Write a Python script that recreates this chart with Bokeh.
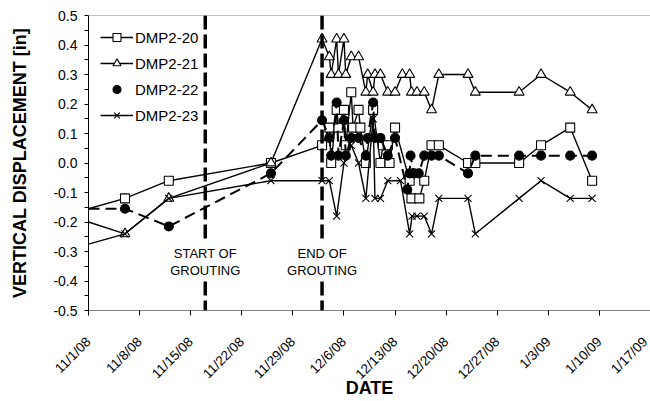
import math
import pandas as pd
from bokeh.plotting import figure
from bokeh.models import (Range1d, FixedTicker, NumeralTickFormatter, Span, Label,
                          Legend, LegendItem, ColumnDataSource)
from bokeh.embed import file_html
from bokeh.resources import INLINE

START = "2008-11-01"

# ---------------- data ----------------
# first entry of each series = value where the line enters the chart at its left edge
dates20 = ["2008-11-01", "2008-11-06", "2008-11-12", "2008-11-26", "2008-12-03",
           "2008-12-04 00:00", "2008-12-04 06:00", "2008-12-05 00:00", "2008-12-05 06:00",
           "2008-12-06 00:00", "2008-12-06 06:00", "2008-12-07 00:00", "2008-12-07 06:00",
           "2008-12-08 00:00", "2008-12-08 06:00", "2008-12-09", "2008-12-10",
           "2008-12-11 00:00", "2008-12-11 08:00", "2008-12-12 00:00", "2008-12-12 06:00",
           "2008-12-13", "2008-12-15 00:00", "2008-12-15 06:00", "2008-12-16 08:00",
           "2008-12-17", "2008-12-18", "2008-12-19", "2008-12-23", "2008-12-24",
           "2008-12-30", "2009-01-02", "2009-01-06", "2009-01-09"]
vals20 = [-0.155, -0.12, -0.06, 0.0, 0.06, 0.12, 0.0, 0.18, 0.12, 0.18, 0.06, 0.24, 0.12,
          0.18, 0.12, 0.0, 0.18, 0.0, 0.06, 0.06, 0.0, 0.12, -0.06, -0.12, -0.12, -0.06,
          0.06, 0.06, 0.0, 0.0, 0.0, 0.06, 0.12, -0.06]

dates21 = ["2008-11-01", "2008-11-06", "2008-11-12", "2008-11-26", "2008-12-03",
           "2008-12-04 00:00", "2008-12-04 06:00", "2008-12-05 00:00", "2008-12-05 06:00",
           "2008-12-06 00:00", "2008-12-06 06:00", "2008-12-07", "2008-12-08",
           "2008-12-09 00:00", "2008-12-09 06:00", "2008-12-10 00:00", "2008-12-10 06:00",
           "2008-12-11", "2008-12-12", "2008-12-13", "2008-12-14", "2008-12-15 00:00",
           "2008-12-15 06:00", "2008-12-16", "2008-12-17", "2008-12-18", "2008-12-19",
           "2008-12-23", "2008-12-24", "2008-12-30", "2009-01-02", "2009-01-06", "2009-01-09"]
vals21 = [-0.20, -0.24, -0.12, 0.0, 0.42, 0.36, 0.30, 0.42, 0.30, 0.42, 0.30, 0.36, 0.36,
          0.24, 0.30, 0.24, 0.30, 0.30, 0.24, 0.24, 0.30, 0.30, 0.24, 0.24, 0.24, 0.18,
          0.30, 0.30, 0.24, 0.24, 0.30, 0.24, 0.18]

dates22 = ["2008-11-01", "2008-11-06", "2008-11-12", "2008-11-26", "2008-12-03",
           "2008-12-04 00:00", "2008-12-04 06:00", "2008-12-05 00:00", "2008-12-05 06:00",
           "2008-12-06 00:00", "2008-12-06 06:00", "2008-12-07", "2008-12-08",
           "2008-12-09 00:00", "2008-12-09 06:00", "2008-12-10 00:00", "2008-12-10 06:00",
           "2008-12-11", "2008-12-12", "2008-12-13", "2008-12-14 16:00", "2008-12-15 00:00",
           "2008-12-15 03:00", "2008-12-15 14:00", "2008-12-16 06:00", "2008-12-17",
           "2008-12-18", "2008-12-19", "2008-12-23", "2008-12-24", "2008-12-30",
           "2009-01-02", "2009-01-06", "2009-01-09"]
vals22 = [-0.155, -0.155, -0.215, -0.035, 0.145, 0.085, 0.025, 0.205, 0.025, 0.145, 0.025,
          0.085, 0.085, 0.025, 0.085, 0.205, 0.085, 0.085, 0.025, 0.085, -0.09, -0.035,
          0.025, -0.035, -0.035, 0.025, 0.025, 0.025, -0.035, 0.025, 0.025, 0.025, 0.025,
          0.025]

dates23 = ["2008-11-01", "2008-11-06", "2008-11-12", "2008-11-26", "2008-12-03",
           "2008-12-04", "2008-12-05", "2008-12-06", "2008-12-07", "2008-12-08",
           "2008-12-09", "2008-12-10 00:00", "2008-12-10 06:00", "2008-12-11", "2008-12-12",
           "2008-12-13 18:00", "2008-12-15 00:00", "2008-12-15 08:00", "2008-12-16",
           "2008-12-17", "2008-12-18", "2008-12-19", "2008-12-23", "2008-12-24",
           "2008-12-30", "2009-01-02", "2009-01-06", "2009-01-09"]
vals23 = [-0.275, -0.24, -0.12, -0.06, -0.06, -0.06, -0.18, 0.0, 0.06, 0.0, -0.12, 0.15,
          -0.12, -0.12, -0.06, -0.06, -0.24, -0.18, -0.18, -0.18, -0.24, -0.12, -0.12,
          -0.24, -0.12, -0.06, -0.12, -0.12]

series_names = ["DMP2-20", "DMP2-21", "DMP2-22", "DMP2-23"]

x_tick_dates = ["2008-11-01", "2008-11-08", "2008-11-15", "2008-11-22", "2008-11-29",
                "2008-12-06", "2008-12-13", "2008-12-20", "2008-12-27", "2009-01-03",
                "2009-01-10", "2009-01-17"]
x_tick_labels = ["11/1/08", "11/8/08", "11/15/08", "11/22/08", "11/29/08", "12/6/08",
                 "12/13/08", "12/20/08", "12/27/08", "1/3/09", "1/10/09", "1/17/09"]
y_ticks = [-0.5, -0.4, -0.3, -0.2, -0.1, 0.0, 0.1, 0.2, 0.3, 0.4, 0.5]
y_minor = [-0.45, -0.35, -0.25, -0.15, -0.05, 0.05, 0.15, 0.25, 0.35, 0.45]

grout_start = "2008-11-17"
grout_end = "2008-12-03"
grout_labels = ["START OF\nGROUTING", "END OF\nGROUTING"]
grout_label_y = -0.335

x_title = "DATE"
y_title = "VERTICAL DISPLACEMENT [in]"


def days(ds):
    t0 = pd.Timestamp(START)
    return [(pd.Timestamp(d) - t0).total_seconds() / 86400.0 for d in ds]


FONT = "Liberation Sans"
X0, X1 = 0.0, days([x_tick_dates[-1]])[0]
Y0, Y1 = -0.5, 0.5

p = figure(width=650, height=401, output_backend="svg", toolbar_location=None,
           x_range=Range1d(X0, X1), y_range=Range1d(Y0, Y1),
           min_border_left=88, min_border_right=0, min_border_top=15, min_border_bottom=91)
p.outline_line_color = None
p.xgrid.visible = False
p.ygrid.visible = False
p.background_fill_color = "white"
p.border_fill_color = "white"

# top border of plot area
p.add_layout(Span(location=Y1, dimension="width", line_color="#808080", line_width=1))

# grouting lines
for d in (grout_start, grout_end):
    p.add_layout(Span(location=days([d])[0], dimension="height", line_color="black",
                      line_width=3.5, line_dash="14 5"))

for d, txt in zip((grout_start, grout_end), grout_labels):
    p.add_layout(Label(x=days([d])[0], y=grout_label_y, text=txt, text_align="center",
                       text_baseline="middle", text_font=FONT, text_font_size="13px",
                       text_color="black", background_fill_color="white", padding=3,
                       text_line_height=1.1))


def add_series(ds, vs, marker, fill, dash, lw):
    line_src = ColumnDataSource(dict(x=days(ds), y=vs))
    mark_src = ColumnDataSource(dict(x=days(ds[1:]), y=vs[1:]))
    ln = p.line("x", "y", source=line_src, line_color="black", line_width=lw,
                line_dash=dash)
    size = 10 if marker in ("triangle", "x") else 9
    mk = p.scatter("x", "y", source=mark_src, marker=marker, size=size, fill_color=fill,
                   line_color="black", line_width=1.1)
    return ln, mk


l20, m20 = add_series(dates20, vals20, "square", "white", "solid", 1.4)
l21, m21 = add_series(dates21, vals21, "triangle", "white", "solid", 1.4)
l22, m22 = add_series(dates22, vals22, "circle", "black", "11 6", 2)
l23, m23 = add_series(dates23, vals23, "x", None, "solid", 1.4)

# legend sample for dashed series drawn solid
empty = ColumnDataSource(dict(x=[], y=[]))
l22_leg = p.line("x", "y", source=empty, line_color="black", line_width=2.2)

legend = Legend(items=[
    LegendItem(label=series_names[0], renderers=[l20, m20]),
    LegendItem(label=series_names[1], renderers=[l21, m21]),
    LegendItem(label=series_names[2], renderers=[l22_leg, m22]),
    LegendItem(label=series_names[3], renderers=[l23, m23]),
], location="top_left")
legend.label_text_font = FONT
legend.label_text_font_size = "15px"
legend.label_text_color = "black"
legend.glyph_width = 33
legend.glyph_height = 20
legend.label_height = 20
legend.label_standoff = 2
legend.spacing = 6
legend.padding = 10
legend.margin = 12
legend.border_line_color = None
legend.background_fill_alpha = 0
p.add_layout(legend)

# axes
xa = p.xaxis[0]
xa.ticker = FixedTicker(ticks=days(x_tick_dates), minor_ticks=[])
xa.major_label_overrides = {t: lab for t, lab in zip(days(x_tick_dates), x_tick_labels)}
xa.major_label_orientation = math.pi / 4
xa.major_label_text_font = FONT
xa.major_label_text_font_size = "13.5px"
xa.major_label_text_color = "black"
xa.major_label_standoff = 24
xa.major_tick_in = 0
xa.major_tick_out = 5
xa.major_tick_line_color = "black"
xa.axis_line_color = "#808080"
xa.axis_label = x_title
xa.axis_label_text_font = FONT
xa.axis_label_text_font_style = "bold"
xa.axis_label_text_font_size = "18px"
xa.axis_label_text_color = "black"
xa.axis_label_standoff = -12

ya = p.yaxis[0]
ya.ticker = FixedTicker(ticks=y_ticks, minor_ticks=y_minor)
ya.formatter = NumeralTickFormatter(format="0.0")
ya.major_label_text_font = FONT
ya.major_label_text_font_size = "14px"
ya.major_label_text_color = "black"
ya.major_label_standoff = 7
ya.major_tick_in = 0
ya.major_tick_out = 4
ya.minor_tick_in = 0
ya.minor_tick_out = 4
ya.major_tick_line_color = "black"
ya.minor_tick_line_color = "black"
ya.axis_line_color = "black"
ya.axis_label = y_title
ya.axis_label_text_font = FONT
ya.axis_label_text_font_style = "bold"
ya.axis_label_text_font_size = "18px"
ya.axis_label_text_color = "black"
ya.axis_label_standoff = 20

open("out.html", "w").write(file_html(p, INLINE))
